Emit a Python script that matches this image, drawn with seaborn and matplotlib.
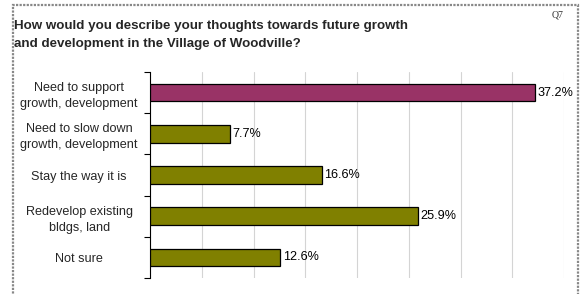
import matplotlib
matplotlib.use("Agg")
import matplotlib.pyplot as plt
import seaborn as sns
import pandas as pd
from matplotlib.patches import Rectangle

categories = ["Need to support\ngrowth, development",
              "Need to slow down\ngrowth, development",
              "Stay the way it is",
              "Redevelop existing\nbldgs, land",
              "Not sure"]
values = [37.2, 7.7, 16.6, 25.9, 12.6]
bar_colors = ["#993366", "#808000", "#808000", "#808000", "#808000"]
title = "How would you describe your thoughts towards future growth\nand development in the Village of Woodville?"
qlabel = "Q7"

sns.set_theme(style="white")
plt.rcParams['font.family'] = ['Liberation Sans', 'DejaVu Sans']

W, H = 581, 294
fig = plt.figure(figsize=(W/100, H/100), dpi=100)
ax = fig.add_axes([150/W, 1-278/H, (564-150)/W, (278-72)/H])

df = pd.DataFrame({"cat": categories, "val": values})
sns.barplot(data=df, y="cat", x="val", hue="cat", palette=bar_colors, legend=False,
            saturation=1, orient="h", width=0.43, edgecolor="black", linewidth=0.9,
            ax=ax, zorder=3)

ax.set_xlim(0, 40)
ax.set_ylim(4.5, -0.5)
ax.set_xticks(range(0, 41, 5))
ax.set_xticklabels([])
ax.tick_params(axis="x", length=0)
ax.xaxis.grid(True, color="#d4d4d4", linewidth=0.8, zorder=0)
ax.set_axisbelow(True)
ax.set_xlabel("")
ax.set_ylabel("")

ax.set_yticks([i - 0.5 for i in range(6)], minor=False)
ax.set_yticklabels([])
ax.set_yticks(range(5), minor=True)
ax.set_yticklabels(categories, minor=True, fontsize=9.1, ha="center", linespacing=1.45)
ax.tick_params(axis="y", which="major", length=4, width=0.8, color="black", direction="out", left=True)
ax.tick_params(axis="y", which="minor", length=0, pad=51)

for s in ["top", "right", "bottom"]:
    ax.spines[s].set_visible(False)
ax.spines["left"].set_color("black")
ax.spines["left"].set_linewidth(0.8)

for i, v in enumerate(values):
    ax.text(v + 0.25, i, f"{v:.1f}%", va="center", ha="left", fontsize=9.1, color="black")

fig.text(14/W, 1-26/H, title.split("\n")[0], fontsize=9.6, fontweight="bold", va="center", ha="left")
fig.text(14/W, 1-44/H, title.split("\n")[1], fontsize=9.6, fontweight="bold", va="center", ha="left")
fig.text(558/W, 1-15/H, qlabel, fontsize=7, family="Liberation Serif", va="center", ha="center", color="#333333")

frame = Rectangle((13/W, -0.1), (578-13)/W, (1-5/H)+0.1, transform=fig.transFigure,
                  fill=False, edgecolor="#888888", linewidth=1.6, linestyle=(0, (1, 0.6)))
fig.add_artist(frame)

fig.savefig("out.png", dpi=100)
